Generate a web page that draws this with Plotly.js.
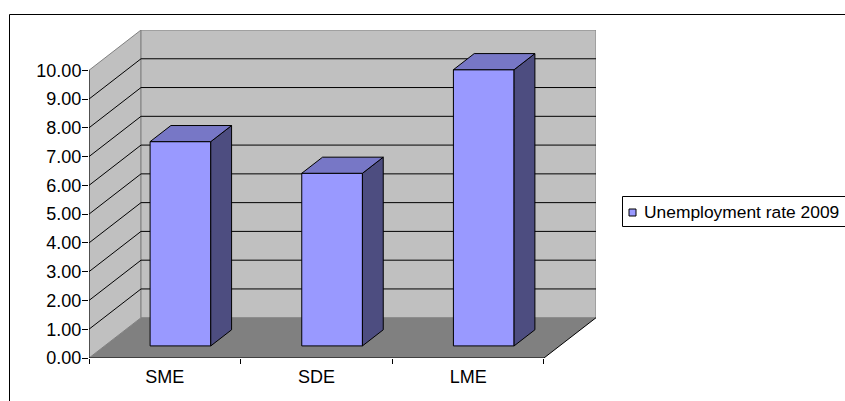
<!DOCTYPE html>
<html>
<head>
<meta charset="utf-8">
<script src="https://cdn.plot.ly/plotly-3.0.1.min.js"></script>
<style>
  html, body { margin: 0; padding: 0; background: #ffffff; }
  #chart { width: 845px; height: 401px; }
</style>
</head>
<body>
<div id="chart"></div>
<script>
// Unemployment rate 2009 by model
const categories = ['SME', 'SDE', 'LME'];
const rates = [7.1, 6.0, 9.6];
const yTickValues = [0, 1, 2, 3, 4, 5, 6, 7, 8, 9, 10];
const seriesName = 'Unemployment rate 2009';

// Depth of the pseudo-3D box, in axis units (x: categories, y: value)
const DX = 0.343, DY = 1.4;
const FRONT = 0.3, BACK = 0.7;   // bar depth span (fraction of box depth)
const HALF = 0.2;                 // half width of a bar's front face
const X0 = -0.5, X1 = categories.length - 0.5;
const YMAX = yTickValues[yTickValues.length - 1];

const W = 845, H = 401;
const M = { l: 89, r: 249, t: 30, b: 43 };
const PW = W - M.l - M.r, PH = H - M.t - M.b;
const px = x => (x - M.l) / PW;          // pixel -> paper x
const py = y => (H - M.b - y) / PH;      // pixel -> paper y

const COL_FRONT = '#9999ff', COL_TOP = '#7777c6', COL_SIDE = '#4d4d80';
const WALL = '#c0c0c0', FLOOR = '#808080', EDGE = '#808080';

// Bars: front faces as a bar trace, top and side faces as filled polygons
const barX = categories.map((c, i) => i + FRONT * DX);
const base = FRONT * DY;
const d = (BACK - FRONT);

const topX = [], topY = [], sideX = [], sideY = [];
rates.forEach((v, i) => {
  const l = barX[i] - HALF, r = barX[i] + HALF;
  const yt = base + v;
  topX.push(l, r, r + d * DX, l + d * DX, l, null);
  topY.push(yt, yt, yt + d * DY, yt + d * DY, yt, null);
  sideX.push(r, r + d * DX, r + d * DX, r, r, null);
  sideY.push(base, base + d * DY, yt + d * DY, yt, base, null);
});

const traces = [
  {
    type: 'bar', x: barX, y: rates, base: base, width: 2 * HALF,
    name: seriesName, showlegend: false, hoverinfo: 'skip',
    marker: { color: COL_FRONT, line: { color: '#000000', width: 1 } }
  },
  {
    type: 'scatter', mode: 'lines', x: sideX, y: sideY, fill: 'toself',
    fillcolor: COL_SIDE, line: { color: '#000000', width: 1 },
    showlegend: false, hoverinfo: 'skip'
  },
  {
    type: 'scatter', mode: 'lines', x: topX, y: topY, fill: 'toself',
    fillcolor: COL_TOP, line: { color: '#000000', width: 1 },
    showlegend: false, hoverinfo: 'skip'
  }
];

// Walls, floor, gridlines and axis lines of the box
const shapes = [];
shapes.push({
  type: 'path', xref: 'x', yref: 'y', layer: 'below',
  path: `M${X0},0 L${X0},${YMAX} L${X0 + DX},${YMAX + DY} L${X0 + DX},${DY} Z`,
  fillcolor: WALL, line: { color: EDGE, width: 1 }
});
shapes.push({
  type: 'rect', xref: 'x', yref: 'y', layer: 'below',
  x0: X0 + DX, x1: X1 + DX, y0: DY, y1: YMAX + DY,
  fillcolor: WALL, line: { color: EDGE, width: 1 }
});
shapes.push({
  type: 'path', xref: 'x', yref: 'y', layer: 'below',
  path: `M${X0},0 L${X1},0 L${X1 + DX},${DY} L${X0 + DX},${DY} Z`,
  fillcolor: FLOOR, line: { width: 0 }
});
yTickValues.forEach(k => {
  if (k === 0 || k === YMAX) return;
  shapes.push({ type: 'line', xref: 'x', yref: 'y', layer: 'below',
    x0: X0, y0: k, x1: X0 + DX, y1: k + DY, line: { color: '#000000', width: 1 } });
  shapes.push({ type: 'line', xref: 'x', yref: 'y', layer: 'below',
    x0: X0 + DX, y0: k + DY, x1: X1 + DX, y1: k + DY, line: { color: '#000000', width: 1 } });
});
shapes.push({ type: 'line', xref: 'x', yref: 'y', layer: 'below',
  x0: X0, y0: 0, x1: X0, y1: YMAX, line: { color: '#000000', width: 1 } });
shapes.push({ type: 'line', xref: 'x', yref: 'y', layer: 'below',
  x0: X0, y0: 0, x1: X1, y1: 0, line: { color: '#000000', width: 1 } });
shapes.push({ type: 'line', xref: 'x', yref: 'y', layer: 'below',
  x0: X1, y0: 0, x1: X1 + DX, y1: DY, line: { color: '#000000', width: 1 } });

// Chart frame
shapes.push({ type: 'rect', xref: 'paper', yref: 'paper', layer: 'above',
  x0: px(9.5), x1: px(1000), y0: py(600), y1: py(14.5),
  fillcolor: 'rgba(0,0,0,0)', line: { color: '#000000', width: 1 } });

// Legend box and key
shapes.push({ type: 'rect', xref: 'paper', yref: 'paper', layer: 'above',
  x0: px(622.5), x1: px(1000), y0: py(226.5), y1: py(196.5),
  fillcolor: '#ffffff', line: { color: '#000000', width: 1 } });
shapes.push({ type: 'rect', xref: 'paper', yref: 'paper', layer: 'above',
  x0: px(629), x1: px(636), y0: py(216), y1: py(209),
  fillcolor: COL_FRONT, line: { color: '#000000', width: 1 } });

const FONT = { family: 'Liberation Sans, Arial, sans-serif', size: 18, color: '#000000' };
const LEGEND_FONT = { family: 'Liberation Sans, Arial, sans-serif', size: 17.4, color: '#000000' };

const layout = {
  width: W, height: H,
  margin: M,
  paper_bgcolor: '#ffffff', plot_bgcolor: 'rgba(0,0,0,0)',
  showlegend: false,
  font: FONT,
  xaxis: {
    range: [X0, X1 + DX], fixedrange: true,
    tickmode: 'array', tickvals: categories.map((c, i) => i), ticktext: categories,
    ticks: '', ticklabelstandoff: 6,
    minor: { tick0: X0, dtick: 1, ticks: 'outside', ticklen: 5, tickcolor: '#000000', tickwidth: 1 },
    showgrid: false, zeroline: false, showline: false,
    tickfont: FONT
  },
  yaxis: {
    range: [0, YMAX + DY], fixedrange: true,
    tickmode: 'array', tickvals: yTickValues, tickformat: '.2f',
    ticks: 'outside', ticklen: 6, tickcolor: '#000000', tickwidth: 1,
    ticklabelstandoff: -3,
    showgrid: false, zeroline: false, showline: false,
    tickfont: FONT
  },
  bargap: 0,
  shapes: shapes,
  annotations: [{
    xref: 'paper', yref: 'paper', x: px(642), y: py(212),
    xanchor: 'left', yanchor: 'middle', showarrow: false,
    text: seriesName, font: LEGEND_FONT
  }]
};

Plotly.newPlot('chart', traces, layout, { displayModeBar: false, staticPlot: true });
</script>
</body>
</html>
